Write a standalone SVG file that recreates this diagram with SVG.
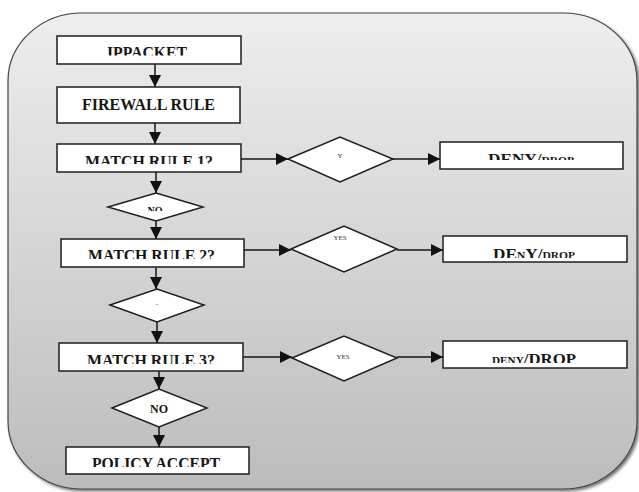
<svg xmlns="http://www.w3.org/2000/svg" width="639" height="492" viewBox="0 0 639 492">
  <style>
    .box { fill: #ffffff; stroke: #1e1e1e; stroke-width: 1.5; }
    .dia { fill: #ffffff; stroke: #1e1e1e; stroke-width: 1.5; }
    .lbl { font-family: "Liberation Serif", "Times New Roman", serif; font-weight: bold; fill: #161616; text-anchor: middle; }
    .sm { font-size: 10px; }
    .tiny { font-family: "Liberation Serif", "Times New Roman", serif; fill: #333333; text-anchor: middle; font-size: 7px; }
    .edge { fill: none; stroke: #161616; stroke-width: 1.5; marker-end: url(#arrow); }
  </style>
  <defs>
    <linearGradient id="panelFill" x1="0" y1="0" x2="0" y2="1">
      <stop offset="0" stop-color="#eeeeee"/>
      <stop offset="1" stop-color="#bcbcbc"/>
    </linearGradient>
    <filter id="panelShadow" x="-5%" y="-5%" width="110%" height="110%">
      <feGaussianBlur in="SourceAlpha" stdDeviation="1.5"/>
      <feOffset dx="2" dy="2" result="s"/>
      <feComponentTransfer><feFuncA type="linear" slope="0.55"/></feComponentTransfer>
      <feMerge><feMergeNode/><feMergeNode in="SourceGraphic"/></feMerge>
    </filter>
    <marker id="arrow" markerUnits="userSpaceOnUse" markerWidth="12" markerHeight="12" refX="12" refY="6" orient="auto">
      <path d="M0,0 L12,6 L0,12 Z" fill="#111111"/>
    </marker>
    <!-- label clips: each caption is cut off along a line inside its box -->
    <clipPath id="cIp" clipPathUnits="userSpaceOnUse"><rect x="57" y="36" width="184" height="19.5"/></clipPath>
    <clipPath id="cM1" clipPathUnits="userSpaceOnUse"><rect x="57" y="144" width="184" height="20"/></clipPath>
    <clipPath id="cM2" clipPathUnits="userSpaceOnUse"><rect x="61" y="239" width="183" height="20"/></clipPath>
    <clipPath id="cM3" clipPathUnits="userSpaceOnUse"><rect x="59" y="343" width="184" height="21"/></clipPath>
    <clipPath id="cPol" clipPathUnits="userSpaceOnUse"><rect x="66" y="447" width="183" height="20"/></clipPath>
    <clipPath id="cD1" clipPathUnits="userSpaceOnUse"><rect x="440" y="142" width="183" height="18"/></clipPath>
    <clipPath id="cD2" clipPathUnits="userSpaceOnUse"><rect x="443" y="236" width="184" height="22"/></clipPath>
    <clipPath id="cD3" clipPathUnits="userSpaceOnUse"><rect x="443" y="341" width="184" height="22"/></clipPath>
    <clipPath id="cNo1" clipPathUnits="userSpaceOnUse"><rect x="108" y="193" width="95" height="18"/></clipPath>
  </defs>

  <!-- background panel -->
  <rect x="8" y="13" width="629" height="476" rx="74" ry="68" fill="url(#panelFill)" stroke="#444444" stroke-width="1.2" filter="url(#panelShadow)"/>

  <!-- connectors -->
  <g id="connectors">
    <line class="edge" x1="155" y1="64" x2="155" y2="87"/>
    <line class="edge" x1="155" y1="123" x2="155" y2="144"/>
    <line class="edge" x1="156" y1="172" x2="156" y2="193"/>
    <line class="edge" x1="156" y1="221" x2="156" y2="239"/>
    <line class="edge" x1="156" y1="267" x2="156" y2="289"/>
    <line class="edge" x1="157" y1="322" x2="157" y2="343"/>
    <line class="edge" x1="159" y1="371" x2="159" y2="389"/>
    <line class="edge" x1="159" y1="427" x2="159" y2="447"/>

    <line class="edge" x1="241" y1="159" x2="288" y2="159"/>
    <line class="edge" x1="393" y1="159" x2="440" y2="159"/>
    <line class="edge" x1="244" y1="250" x2="291" y2="250"/>
    <line class="edge" x1="397" y1="250" x2="443" y2="250"/>
    <line class="edge" x1="243" y1="357" x2="292" y2="357"/>
    <line class="edge" x1="397" y1="357" x2="443" y2="357"/>
  </g>

  <!-- main column -->
  <g id="ip-packet">
    <rect class="box" x="57" y="36" width="184" height="28"/>
    <text class="lbl" x="147" y="58" font-size="16" textLength="80" lengthAdjust="spacingAndGlyphs" clip-path="url(#cIp)">IPPACKET</text>
  </g>
  <g id="firewall-rule">
    <rect class="box" x="57" y="87" width="183" height="36"/>
    <text class="lbl" x="148.5" y="110" font-size="17" textLength="133" lengthAdjust="spacingAndGlyphs">FIREWALL RULE</text>
  </g>
  <g id="match-rule-1">
    <rect class="box" x="57" y="144" width="184" height="28"/>
    <text class="lbl" x="149" y="167" font-size="17" textLength="128" lengthAdjust="spacingAndGlyphs" clip-path="url(#cM1)">MATCH RULE 1?</text>
  </g>
  <g id="no-1">
    <polygon class="dia" points="108,207 156,193 203,207 156,221"/>
    <text class="lbl" x="155" y="214" font-size="10" clip-path="url(#cNo1)">NO</text>
  </g>
  <g id="match-rule-2">
    <rect class="box" x="61" y="239" width="183" height="28"/>
    <text class="lbl" x="151.5" y="261" font-size="17" textLength="127" lengthAdjust="spacingAndGlyphs" clip-path="url(#cM2)">MATCH RULE 2?</text>
  </g>
  <g id="no-2">
    <polygon class="dia" points="110,305 157,289 204,305 157,322"/>
    <text class="tiny" x="157" y="306">-</text>
  </g>
  <g id="match-rule-3">
    <rect class="box" x="59" y="343" width="184" height="28"/>
    <text class="lbl" x="151" y="366" font-size="17" textLength="128" lengthAdjust="spacingAndGlyphs" clip-path="url(#cM3)">MATCH RULE 3?</text>
  </g>
  <g id="no-3">
    <polygon class="dia" points="112,408 159,389 207,408 159,427"/>
    <text class="lbl" x="159" y="413" font-size="12">NO</text>
  </g>
  <g id="policy-accept">
    <rect class="box" x="66" y="447" width="183" height="27"/>
    <text class="lbl" x="156" y="469" font-size="17" textLength="128" lengthAdjust="spacingAndGlyphs" clip-path="url(#cPol)">POLICY ACCEPT</text>
  </g>

  <!-- right-hand branches -->
  <g id="yes-1">
    <polygon class="dia" points="288,159 340,137 393,159 340,182"/>
    <text class="tiny" x="340" y="158">Y</text>
  </g>
  <g id="deny-1">
    <rect class="box" x="440" y="142" width="183" height="27"/>
    <text class="lbl" x="531" y="164" font-size="15" textLength="86" lengthAdjust="spacingAndGlyphs" clip-path="url(#cD1)">DENY/<tspan class="sm">DROP</tspan></text>
  </g>
  <g id="yes-2">
    <polygon class="dia" points="291,249 344,226 397,249 344,272"/>
    <text class="tiny" x="340" y="240">YES</text>
  </g>
  <g id="deny-2">
    <rect class="box" x="443" y="236" width="184" height="26"/>
    <text class="lbl" x="534" y="258.5" font-size="15" textLength="82" lengthAdjust="spacingAndGlyphs" clip-path="url(#cD2)">DE<tspan class="sm">N</tspan>Y/<tspan class="sm">DROP</tspan></text>
  </g>
  <g id="yes-3">
    <polygon class="dia" points="292,358 344,336 397,358 344,381"/>
    <text class="tiny" x="343" y="359">YES</text>
  </g>
  <g id="deny-3">
    <rect class="box" x="443" y="341" width="184" height="27"/>
    <text class="lbl" x="534" y="363.5" font-size="15" textLength="84" lengthAdjust="spacingAndGlyphs" clip-path="url(#cD3)"><tspan class="sm">DENY</tspan>/DROP</text>
  </g>
</svg>
